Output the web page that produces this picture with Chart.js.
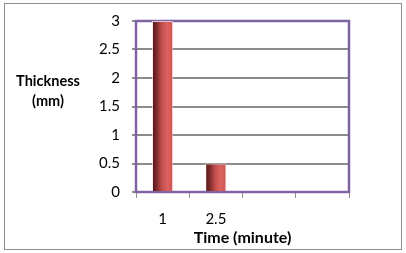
<!DOCTYPE html>
<html>
<head>
<meta charset="utf-8">
<script src="https://cdn.jsdelivr.net/npm/chart.js@4/dist/chart.umd.min.js"></script>
<style>
  html, body { margin:0; padding:0; background:#fff; }
  #wrap { position:relative; width:406px; height:253px; overflow:hidden; }
  #frame { position:absolute; left:4px; top:3px; width:396px; height:245px; border:1px solid #8f8f8f; pointer-events:none; }
  #ytitle { position:absolute; left:0; top:71px; width:96px; text-align:center; font:bold 14.5px Lato, sans-serif; line-height:20px; color:#000; }
  canvas { position:absolute; left:0; top:0; }
</style>
</head>
<body>
<div id="wrap">
  <canvas id="c" width="406" height="253"></canvas>
  <div id="ytitle">Thickness<br>(mm)</div>
  <div id="frame"></div>
</div>
<script>
const categories = ['1', '2.5', '', ''];
const thickness = [3, 0.5, null, null];
const yTicks = [0, 0.5, 1, 1.5, 2, 2.5, 3];
const xTitle = 'Time (minute)';

const BAR_FRACTION = 0.4;

function barGradient(ctx) {
  const chart = ctx.chart;
  const xs = chart.scales && chart.scales.x;
  if (!xs || ctx.type !== 'data' || !xs.width) return '#c0504d';
  const center = xs.getPixelForValue(ctx.dataIndex);
  const w = xs.width / categories.length * BAR_FRACTION;
  const x0 = center - w / 2, x1 = center + w / 2;
  const g = chart.ctx.createLinearGradient(x0, 0, x1, 0);
  g.addColorStop(0, '#4a1717');
  g.addColorStop(0.2, '#7a2828');
  g.addColorStop(0.45, '#be4c4b');
  g.addColorStop(0.7, '#dc6260');
  g.addColorStop(1, '#cf5653');
  return g;
}

const framePlugin = {
  id: 'plotFrame',
  beforeDatasetsDraw(chart) {
    const { ctx, chartArea: a } = chart;
    ctx.save();
    ctx.strokeStyle = '#8064a2';
    ctx.lineWidth = 2.5;
    ctx.strokeRect(a.left, a.top, a.right - a.left, a.bottom - a.top);
    ctx.restore();
  }
};

new Chart(document.getElementById('c'), {
  type: 'bar',
  data: {
    labels: categories,
    datasets: [{
      data: thickness,
      backgroundColor: barGradient,
      borderColor: 'rgba(255,235,235,0.7)',
      borderWidth: 1,
      borderSkipped: 'start',
      categoryPercentage: 1,
      barPercentage: BAR_FRACTION
    }]
  },
  options: {
    responsive: false,
    animation: false,
    events: [],
    layout: { padding: { left: 0, right: 57, top: 16, bottom: 0 } },
    plugins: { legend: { display: false }, tooltip: { enabled: false } },
    scales: {
      x: {
        grid: { display: true, drawOnChartArea: false, offset: true, tickLength: 6, color: '#8c8c8c', lineWidth: 1 },
        border: { display: false },
        ticks: { color: '#000', font: { family: 'Lato', size: 15 }, padding: 12, maxRotation: 0, autoSkip: false },
        title: { display: true, text: xTitle, color: '#000', font: { family: 'Lato', size: 16, weight: 'bold' }, padding: { top: 0, bottom: 6 } },
        afterFit: s => { s.height = 61; }
      },
      y: {
        min: 0, max: 3,
        afterBuildTicks: s => { s.ticks = yTicks.map(v => ({ value: v })); },
        ticks: { color: '#000', font: { family: 'Lato', size: 15 }, padding: 12, callback: v => String(v) },
        grid: { color: '#8c8c8c', lineWidth: 2, tickLength: 4 },
        border: { display: false },
        afterFit: s => { s.width = 136; }
      }
    }
  },
  plugins: [framePlugin]
});
</script>
</body>
</html>
